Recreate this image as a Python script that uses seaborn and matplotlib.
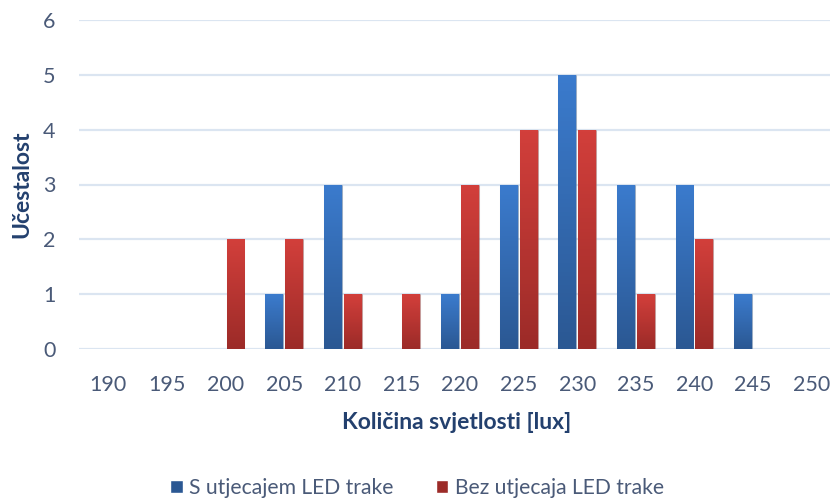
import numpy as np
import pandas as pd
import matplotlib
matplotlib.use("Agg")
import matplotlib.pyplot as plt
from matplotlib.colors import LinearSegmentedColormap
import seaborn as sns

# Histogram bins of illuminance and how often each occurred
bins = [190, 195, 200, 205, 210, 215, 220, 225, 230, 235, 240, 245, 250]
with_led = [0, 0, 0, 1, 3, 0, 1, 3, 5, 3, 3, 1, 0]
without_led = [0, 0, 2, 2, 1, 1, 3, 4, 4, 1, 2, 0, 0]
series_names = ["S utjecajem LED trake", "Bez utjecaja LED trake"]

df = pd.DataFrame({
    "bin": [str(b) for b in bins] * 2,
    "count": with_led + without_led,
    "series": [series_names[0]] * len(bins) + [series_names[1]] * len(bins),
})

sns.set_theme(style="white")
plt.rcParams["font.family"] = ["Lato", "DejaVu Sans"]

tick_color = "#4a5a78"
label_color = "#23406e"
grid_color = "#dbe5f1"

# (top, bottom) colours of the bar gradients
grad = {
    series_names[0]: ("#3b7bcd", "#2b5893"),
    series_names[1]: ("#d23f3b", "#9c2b28"),
}

fig = plt.figure(figsize=(8.3, 5.0), dpi=100)
ax = fig.add_axes([79 / 830, 151 / 500, 762 / 830, 329 / 500])

sns.barplot(data=df, x="bin", y="count", hue="series",
            palette=[grad[s][0] for s in series_names],
            width=0.68, gap=0.1, ax=ax, legend=False, zorder=3)

for y in range(0, 7):
    ax.axhline(y, color=grid_color, lw=1.6, zorder=1)
for s in ax.spines.values():
    s.set_visible(False)

# vertical gradient fill for each bar, clipped to the bar rectangle
n = len(bins)
for i, patch in enumerate(ax.patches[: 2 * n]):
    name = series_names[i // n]
    top, bottom = grad[name]
    h = patch.get_height()
    if h <= 0:
        patch.set_visible(False)
        continue
    x0 = patch.get_x()
    w = patch.get_width()
    cmap = LinearSegmentedColormap.from_list("g", [bottom, top])
    g = np.linspace(0, 1, 64).reshape(-1, 1)
    im = ax.imshow(g, cmap=cmap, aspect="auto", origin="lower",
                   extent=[x0, x0 + w, 0, h], zorder=4)
    im.set_clip_path(patch)
    patch.set_edgecolor((0.5, 0.5, 0.5, 0.25))
    patch.set_linewidth(0.8)

ax.set_xlim(-0.5, len(bins) - 0.5)
ax.set_ylim(0, 6)
ax.set_yticks(range(0, 7))

ax.tick_params(axis="both", length=0, colors=tick_color, labelsize=15.5)
ax.tick_params(axis="x", pad=19)
ax.tick_params(axis="y", pad=17)
for t in ax.get_yticklabels() + ax.get_xticklabels():
    t.set_color(tick_color)

ax.set_xlabel("Količina svjetlosti [lux]", fontsize=16.5, fontweight="bold",
              color=label_color)
ax.set_ylabel("Učestalost", fontsize=16.5, fontweight="bold",
              color=label_color)
ax.xaxis.set_label_coords(378 / 762, -63 / 329)
ax.yaxis.set_label_coords(-47 / 762, 0.5)

handles = [plt.Rectangle((0, 0), 1, 1, facecolor=grad[s][1]) for s in series_names]
fig.legend(handles, series_names, loc="center", bbox_to_anchor=(417 / 830, 12 / 500),
           ncol=2, frameon=False, fontsize=15.2, handlelength=0.6, handleheight=0.6,
           handletextpad=0.3, columnspacing=2.0, labelcolor=tick_color)

fig.savefig("out.png", dpi=100)
